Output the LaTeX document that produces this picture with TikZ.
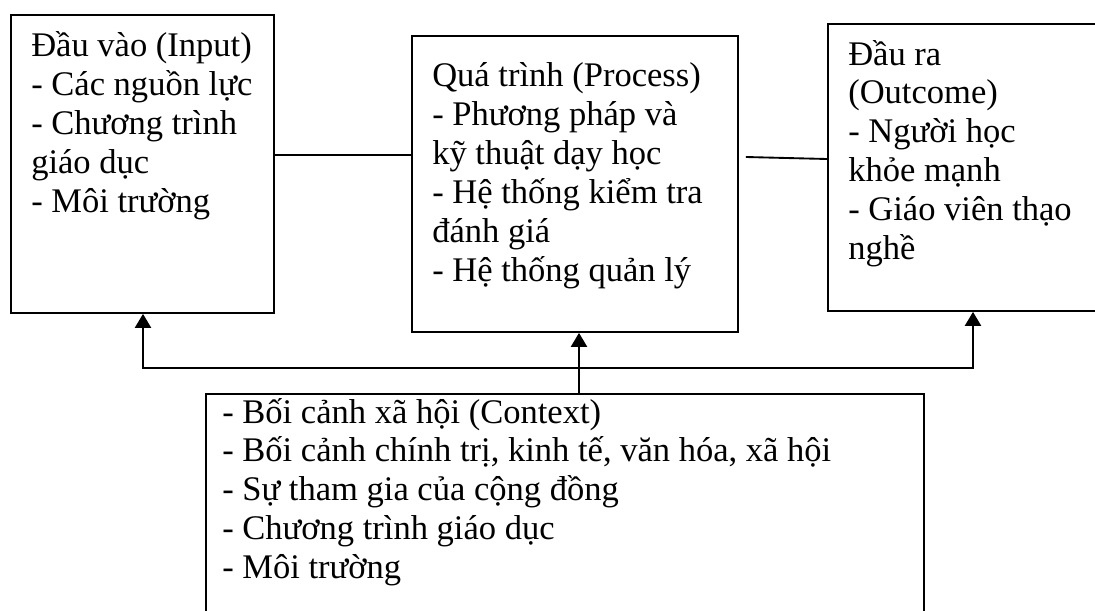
\documentclass[tikz,border=0pt]{standalone}
\usepackage{fontspec}
\setmainfont{Liberation Serif}
\usetikzlibrary{arrows.meta}
\begin{document}
\begin{tikzpicture}[x=0.75pt,y=-0.75pt,
  frame/.style={draw, line width=1.4pt, inner sep=0pt, anchor=north west},
  txt/.style={anchor=base west, inner sep=0pt, font=\fontsize{25.9}{29.2}\selectfont},
  link/.style={line width=1.4pt},
  tip/.tip={Triangle[width=12pt,length=10.5pt]},
  feed/.style={line width=1.6pt, -tip},
  feedboth/.style={line width=1.6pt, tip-tip, line join=miter}]
\clip (0,0) rectangle (1095,610);

% boxes
\node[frame, minimum width=197.25pt, minimum height=223.5pt] (in) at (10,14) {};
\node[frame, minimum width=244.5pt, minimum height=222pt] (proc) at (411,35) {};
\node[frame, minimum width=219.75pt, minimum height=215.25pt] (out) at (827,23) {};
\node[frame, minimum width=538.5pt, minimum height=192.75pt] (ctx) at (205,393) {};

% texts
\node[txt] (inT) at (31,57) {\parbox[t]{200pt}{\raggedright
  Đầu vào (Input)\\
  - Các nguồn lực\\
  - Chương trình\\
  giáo dục\\
  - Môi trường}};
\node[txt] (procT) at (432,87) {\parbox[t]{240pt}{\raggedright
  Quá trình (Process)\\
  - Phương pháp và\\
  kỹ thuật dạy học\\
  - Hệ thống kiểm tra\\
  đánh giá\\
  - Hệ thống quản lý}};
\node[txt] (outT) at (848,65) {\parbox[t]{200pt}{\raggedright
  Đầu ra\\
  (Outcome)\\
  - Người học\\
  khỏe mạnh\\
  - Giáo viên thạo\\
  nghề}};
\node[txt] (ctxT) at (222,423) {\parbox[t]{520pt}{\raggedright
  - Bối cảnh xã hội (Context)\\
  - Bối cảnh chính trị, kinh tế, văn hóa, xã hội\\
  - Sự tham gia của cộng đồng\\
  - Chương trình giáo dục\\
  - Môi trường}};

% links between the three stages
\draw[link] (in.east |- 0,155) -- (proc.west |- 0,155);
\draw[link] ([xshift=5.25pt]proc.east |- 0,157) -- (out.west |- 0,159);

% context feeds every stage
\coordinate (busL) at (143,368);
\coordinate (busR) at (973,368);
\coordinate (busM) at (579,368);
\draw[feedboth] (in.south -| busL) -- (busL) -- (busR) -- (out.south -| busR);
\draw[feed] (ctx.north -| busM) -- (proc.south -| busM);
\end{tikzpicture}
\end{document}
